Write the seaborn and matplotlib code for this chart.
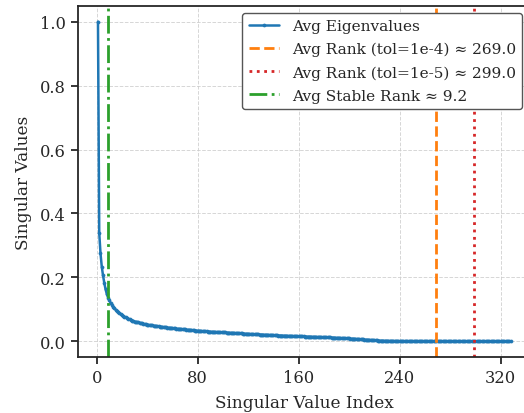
import matplotlib
matplotlib.use("Agg")
import matplotlib.pyplot as plt
import seaborn as sns
import numpy as np
import pandas as pd

# ---- data ----
singular_values = [
    1.000, 0.339, 0.275, 0.234, 0.206, 0.183, 0.163, 0.148, 0.137, 0.128,
    0.120, 0.114, 0.108, 0.103, 0.099, 0.095, 0.091, 0.088, 0.085, 0.082,
    0.079, 0.077, 0.075, 0.073, 0.071, 0.069, 0.067, 0.065, 0.064, 0.062,
    0.061, 0.060, 0.059, 0.058, 0.057, 0.056, 0.055, 0.054, 0.053, 0.052,
    0.0515, 0.051, 0.0505, 0.050, 0.049, 0.0485, 0.048, 0.047, 0.0465, 0.046,
    0.0455, 0.045, 0.0445, 0.044, 0.0435, 0.043, 0.0425, 0.042, 0.0415, 0.041,
    0.0406, 0.0402, 0.0398, 0.0394, 0.039, 0.0386, 0.0382, 0.0378, 0.0374, 0.037,
    0.0366, 0.0362, 0.0358, 0.0354, 0.035, 0.0346, 0.0342, 0.0338, 0.0334, 0.033,
    0.0327, 0.0324, 0.0321, 0.0318, 0.0315, 0.0312, 0.0309, 0.0306, 0.0303, 0.030,
    0.0298, 0.0296, 0.0294, 0.0292, 0.029, 0.0288, 0.0286, 0.0284, 0.0282, 0.028,
    0.0278, 0.0276, 0.0274, 0.0272, 0.027, 0.0268, 0.0266, 0.0264, 0.0262, 0.026,
    0.0257, 0.0254, 0.0251, 0.0248, 0.0245, 0.0242, 0.0239, 0.0236, 0.0233, 0.023,
    0.0228, 0.0226, 0.0224, 0.0222, 0.022, 0.0218, 0.0216, 0.0214, 0.0212, 0.021,
    0.0208, 0.0206, 0.0204, 0.0202, 0.020, 0.0198, 0.0196, 0.0194, 0.0192, 0.019,
    0.0188, 0.0186, 0.0184, 0.0182, 0.018, 0.0178, 0.0176, 0.0174, 0.0172, 0.017,
    0.0169, 0.0168, 0.0167, 0.0166, 0.0165, 0.0164, 0.0163, 0.0162, 0.0161, 0.016,
    0.0158, 0.0156, 0.0154, 0.0152, 0.015, 0.0148, 0.0146, 0.0144, 0.0142, 0.014,
    0.0139, 0.0138, 0.0137, 0.0136, 0.0135, 0.0134, 0.0133, 0.0132, 0.0131, 0.013,
    0.0128, 0.0126, 0.0124, 0.0122, 0.012, 0.0118, 0.0116, 0.0114, 0.0112, 0.011,
    0.0108, 0.0106, 0.0104, 0.0102, 0.010, 0.0098, 0.0096, 0.0094, 0.0092, 0.009,
    0.0087, 0.0084, 0.0081, 0.0078, 0.0075, 0.0072, 0.0069, 0.0066, 0.0063, 0.006,
    0.0057, 0.0054, 0.0051, 0.0048, 0.0045, 0.0042, 0.0039, 0.0036, 0.0033, 0.003,
    0.0028, 0.0026, 0.0024, 0.0022, 0.002, 0.0018, 0.0016, 0.0015, 0.0014, 0.0013,
    0.0012, 0.0011, 0.0010, 0.0009, 0.0008, 0.0007, 0.0007, 0.0006, 0.0006, 0.0005,
    0.0005, 0.0005, 0.0004, 0.0004, 0.0004, 0.0004, 0.0003, 0.0003, 0.0003, 0.0003,
    0.0003, 0.0003, 0.0003, 0.0003, 0.0003, 0.0003, 0.0003, 0.0003, 0.0003, 0.0003,
    0.0003, 0.0003, 0.0003, 0.0003, 0.0002, 0.0002, 0.0002, 0.0002, 0.0002, 0.0002,
    0.0002, 0.0002, 0.0002, 0.0002, 0.0002, 0.0002, 0.0002, 0.0002, 0.0002, 0.0002,
    0.0002, 0.0002, 0.0002, 0.0002, 0.0002, 0.0002, 0.0002, 0.0002, 0.0002, 0.0002,
    0.0002, 0.0002, 0.0002, 0.0002, 0.0002, 0.0002, 0.0002, 0.0002, 0.0002, 0.0002,
    0.0001, 0.0001, 0.0001, 0.0001, 0.0001, 0.0001, 0.0001, 0.0001, 0.0001, 0.0001,
    0.0001, 0.0001, 0.0001, 0.0001, 0.0001, 0.0001, 0.0001, 0.0001, 0.0001, 0.0001,
    0.0001, 0.0001, 0.0001, 0.0001, 0.0001, 0.0001, 0.0001, 0.0001,
]
indices = list(range(1, len(singular_values) + 1))

rank_tol_1e4 = 269.0
rank_tol_1e5 = 299.0
stable_rank = 9.2

x_ticks = [0, 80, 160, 240, 320]
y_ticks = [0.0, 0.2, 0.4, 0.6, 0.8, 1.0]

df = pd.DataFrame({"Singular Value Index": indices, "Singular Values": singular_values})

# ---- style ----
sns.set_theme(style="ticks")
plt.rcParams["font.family"] = ["DejaVu Serif"]
plt.rcParams["axes.edgecolor"] = "#262626"
plt.rcParams["axes.linewidth"] = 1.3

W, H = 524, 414
fig = plt.figure(figsize=(W / 100, H / 100), dpi=100)
ax_left, ax_top, ax_bottom, ax_right = 77.7, 6.7, 358.3, 531.4
ax = fig.add_axes([ax_left / W, (H - ax_bottom) / H,
                   (ax_right - ax_left) / W, (ax_bottom - ax_top) / H])

blue = "#1f77b4"
sns.lineplot(data=df, x="Singular Value Index", y="Singular Values", ax=ax,
             color=blue, linewidth=1.8, marker="o", markersize=2.2,
             markeredgewidth=0.5, markeredgecolor=blue, markerfacecolor=blue,
             label="Avg Eigenvalues")

ax.axvline(rank_tol_1e4, color="#ff7f0e", linestyle="--", linewidth=2,
           label=f"Avg Rank (tol=1e-4) \u2248 {rank_tol_1e4:.1f}")
ax.axvline(rank_tol_1e5, color="#d62728", linestyle=":", linewidth=2,
           label=f"Avg Rank (tol=1e-5) \u2248 {rank_tol_1e5:.1f}")
ax.axvline(stable_rank, color="#2ca02c", linestyle="-.", linewidth=2,
           label=f"Avg Stable Rank \u2248 {stable_rank:.1f}")

ax.set_xlim(-15.06, 344.35)
ax.set_ylim(-0.05, 1.05)
ax.set_xticks(x_ticks)
ax.set_yticks(y_ticks)
ax.tick_params(axis="both", labelsize=11.7, length=5, width=1.3, direction="out",
               colors="#262626", labelcolor="#262626")
ax.grid(True, linestyle="--", linewidth=0.7, color="#cccccc", alpha=0.8)
ax.set_xlabel("Singular Value Index", fontsize=12.2, color="#262626", labelpad=6)
ax.set_ylabel("Singular Values", fontsize=12.2, color="#262626", labelpad=5.5)

leg = ax.legend(loc="upper right", bbox_to_anchor=(522 / W, 1 - 14 / H),
                bbox_transform=fig.transFigure, borderaxespad=0,
                fontsize=11.1, frameon=True, fancybox=True, framealpha=1.0,
                edgecolor="#555555", labelspacing=0.58)
leg.get_frame().set_linewidth(1.0)

fig.savefig("out.png", dpi=100)
